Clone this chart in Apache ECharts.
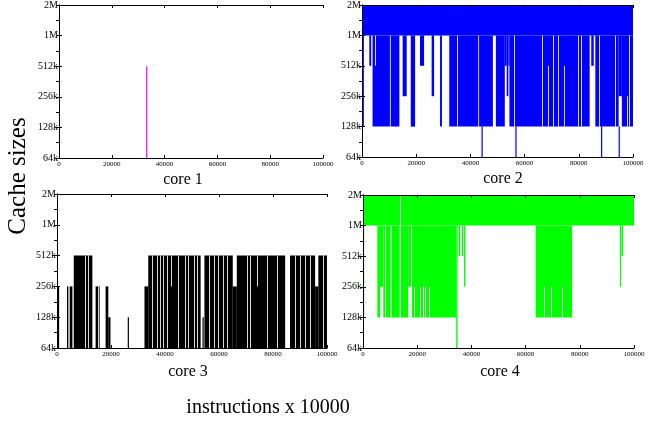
<!DOCTYPE html>
<html><head><meta charset="utf-8">
<script src="https://cdn.jsdelivr.net/npm/echarts@6/dist/echarts.min.js"></script>
<style>html,body{margin:0;padding:0;background:#fff}#c{width:656px;height:425px}</style>
</head><body><div id="c"></div>
<script>
// y levels (cache size in k) and their labels
const yLevels = [64, 128, 256, 512, 1024, 2048];
const yLabels = ['64k', '128k', '256k', '512k', '1M', '2M'];
const xTickLabels = ['0', '20000', '40000', '60000', '80000', '100000'];
const panelTitles = ['core 1', 'core 2', 'core 3', 'core 4'];

// bands: [xStart, xEnd, lowSize(k), highSize(k)] - regions where the trace fills
const core1Bands = [[33000, 33200, 64, 512]];
const core1Gaps = [];

const core2Bands = [
  [0, 100000, 1024, 2048],
  [0, 700, 128, 1024], [2700, 3400, 512, 1024], [3900, 10300, 128, 1024],
  [10600, 13800, 128, 1024], [15000, 16500, 256, 1024], [18000, 19600, 128, 1024],
  [21400, 22900, 512, 1024], [25700, 26600, 256, 1024], [28800, 29500, 128, 1024],
  [32200, 42900, 128, 1024], [43200, 48300, 128, 1024], [49400, 52700, 128, 1024],
  [52700, 53400, 512, 1024], [53400, 54000, 256, 1024], [54000, 54400, 512, 1024],
  [54400, 84000, 128, 1024], [84600, 85500, 512, 1024], [86100, 94700, 128, 1024],
  [94700, 95900, 256, 1024], [95900, 100000, 128, 1024],
  [44100, 44400, 64, 128], [56600, 56900, 64, 128], [88200, 88500, 64, 128], [94700, 95000, 64, 128]
];
// gaps: [x, lowSize(k), highSize(k)] - thin white lines inside the filled regions
const core2Gaps = [
  [4900, 512, 1024], [35000, 128, 1024], [56200, 128, 1024], [66500, 128, 1024],
  [68800, 128, 512], [70600, 128, 1024], [72400, 128, 1024], [74600, 128, 512],
  [79800, 128, 1024], [80800, 128, 1024], [87400, 128, 1024], [93400, 128, 1024],
  [97900, 128, 256], [98600, 128, 1024]
];

const core3Bands = [
  [0, 800, 64, 256], [3700, 4200, 64, 256], [4700, 5700, 64, 256],
  [6200, 13100, 64, 512], [14300, 15800, 64, 256], [18000, 19000, 64, 256],
  [19000, 19800, 64, 128], [26200, 26500, 64, 128], [32400, 33800, 64, 256],
  [33800, 53200, 64, 512], [53900, 54200, 64, 128], [54600, 65100, 64, 512],
  [65100, 66600, 64, 256], [66600, 84500, 64, 512], [86300, 95600, 64, 512],
  [95600, 96800, 64, 256], [96800, 100000, 64, 512]
];
const core3Gaps = [
  [10400, 64, 512], [11400, 64, 512], [15100, 64, 256], [35000, 64, 512],
  [36900, 64, 512], [38200, 64, 512], [39400, 64, 512], [40800, 64, 512],
  [42200, 256, 512], [44800, 64, 512], [47400, 64, 512], [48600, 64, 512],
  [50800, 64, 512], [51800, 64, 512], [56200, 64, 512], [58000, 64, 512],
  [59800, 64, 512], [61600, 64, 512], [63100, 64, 512], [70300, 64, 512],
  [71500, 64, 512], [74000, 256, 512], [77700, 64, 512], [81400, 64, 512],
  [88200, 64, 512], [90000, 64, 512], [91900, 64, 512], [93700, 64, 512],
  [98700, 64, 512]
];

const core4Bands = [
  [0, 100000, 1024, 2048],
  [0, 400, 128, 1024], [5300, 6300, 128, 1024], [6300, 7500, 256, 1024],
  [7500, 10200, 128, 1024], [10600, 13500, 128, 1024], [13500, 16700, 128, 1024],
  [16700, 18000, 256, 1024], [18000, 34400, 128, 1024], [34400, 34900, 64, 1024],
  [35300, 35800, 512, 1024], [36400, 37000, 512, 1024], [37300, 37800, 256, 1024],
  [63700, 77400, 128, 1024], [94800, 95200, 256, 1024], [95400, 96000, 512, 1024]
];
const core4Gaps = [
  [8100, 128, 1024], [13700, 128, 2048], [17700, 128, 1024], [18800, 128, 256],
  [21000, 128, 256], [22000, 128, 256], [22900, 128, 256], [24500, 128, 256],
  [66900, 128, 256], [69300, 128, 256], [73300, 128, 256], [77000, 128, 1024]
];

const coreColors = ['#ff00ff', '#0000ff', '#000000', '#00ff00'];
const allBands = [core1Bands, core2Bands, core3Bands, core4Bands];
const allGaps = [core1Gaps, core2Gaps, core3Gaps, core4Gaps];

const grids = [
  {left: 59, top: 4, width: 264, height: 154},
  {left: 362, top: 4, width: 271, height: 153},
  {left: 57, top: 194, width: 270, height: 154},
  {left: 363, top: 195, width: 271, height: 153}
];
const titlePos = [[183, 180], [503, 179], [188, 372], [500, 372]];
const FONT = '"Liberation Serif", "DejaVu Serif", serif';

const xAxes = [], yAxes = [], series = [];
grids.forEach((g, i) => {
  const base = {
    type: 'value', gridIndex: i, min: 0, max: 100000, interval: 20000, z: 5,
    axisLine: {show: true, lineStyle: {color: '#000', width: 1}},
    axisTick: {show: true, inside: true, length: 3, lineStyle: {color: '#000'}},
    splitLine: {show: false}
  };
  xAxes.push(Object.assign({}, base, {
    position: 'bottom',
    axisLabel: {show: true, fontSize: 7, fontFamily: FONT, color: '#000', margin: 3,
      formatter: v => xTickLabels[Math.round(v / 20000)]}
  }));
  xAxes.push(Object.assign({}, base, {position: 'top', axisLabel: {show: false}}));
  yAxes.push({
    type: 'log', logBase: 2, gridIndex: i, min: 64, max: 2048, interval: 1, z: 5,
    position: 'left',
    axisLine: {show: true, lineStyle: {color: '#000', width: 1}},
    axisTick: {show: true, inside: true, length: 3, lineStyle: {color: '#000'}},
    splitLine: {show: false},
    axisLabel: {fontSize: 10, fontFamily: FONT, color: '#000', margin: 1,
      formatter: v => {
        const k = yLevels.findIndex(l => Math.abs(l - v) < 0.5);
        return k >= 0 ? yLabels[k] : '';
      }}
  });
  yAxes.push({
    type: 'value', gridIndex: i, min: 0, max: 10, interval: 1, z: 5, position: 'right',
    axisLine: {show: true, lineStyle: {color: '#000', width: 1}},
    axisTick: {show: true, inside: true, length: 3, lineStyle: {color: '#000'}},
    axisLabel: {show: false}, splitLine: {show: false}
  });
  series.push({
    type: 'custom', xAxisIndex: 2 * i, yAxisIndex: 2 * i, data: allBands[i],
    encode: {x: [0, 1], y: [2, 3]}, silent: true, clip: true, animation: false,
    renderItem: (params, api) => {
      const p0 = api.coord([api.value(0), api.value(3)]);
      const p1 = api.coord([api.value(1), api.value(2)]);
      return {type: 'rect', shape: {x: p0[0], y: p0[1], width: Math.max(p1[0] - p0[0], 1.2), height: p1[1] - p0[1]},
        style: {fill: coreColors[i]}};
    }
  });
  series.push({
    type: 'custom', xAxisIndex: 2 * i, yAxisIndex: 2 * i, data: allGaps[i],
    encode: {x: 0, y: [1, 2]}, silent: true, clip: true, animation: false,
    renderItem: (params, api) => {
      const p0 = api.coord([api.value(0), api.value(2)]);
      const p1 = api.coord([api.value(0), api.value(1)]);
      return {type: 'rect', shape: {x: Math.round(p0[0]), y: p0[1], width: 1, height: p1[1] - p0[1]},
        style: {fill: '#ffffff', opacity: 0.85}};
    }
  });
});

const graphics = panelTitles.map((t, i) => ({
  type: 'text', x: titlePos[i][0], y: titlePos[i][1],
  style: {text: t, fontSize: 16, fontFamily: FONT, fill: '#000', textAlign: 'center', textVerticalAlign: 'middle'}
}));
graphics.push({type: 'text', x: 18, y: 176, rotation: Math.PI / 2,
  style: {text: 'Cache sizes', fontSize: 25, fontFamily: FONT, fill: '#000', textAlign: 'center', textVerticalAlign: 'middle'}});
graphics.push({type: 'text', x: 268, y: 408,
  style: {text: 'instructions x 10000', fontSize: 20, fontFamily: FONT, fill: '#000', textAlign: 'center', textVerticalAlign: 'middle'}});

const chart = echarts.init(document.getElementById('c'), null, {renderer: 'canvas'});
chart.setOption({
  animation: false, backgroundColor: '#fff',
  grid: grids, xAxis: xAxes, yAxis: yAxes, series: series, graphic: graphics
});
</script></body></html>
